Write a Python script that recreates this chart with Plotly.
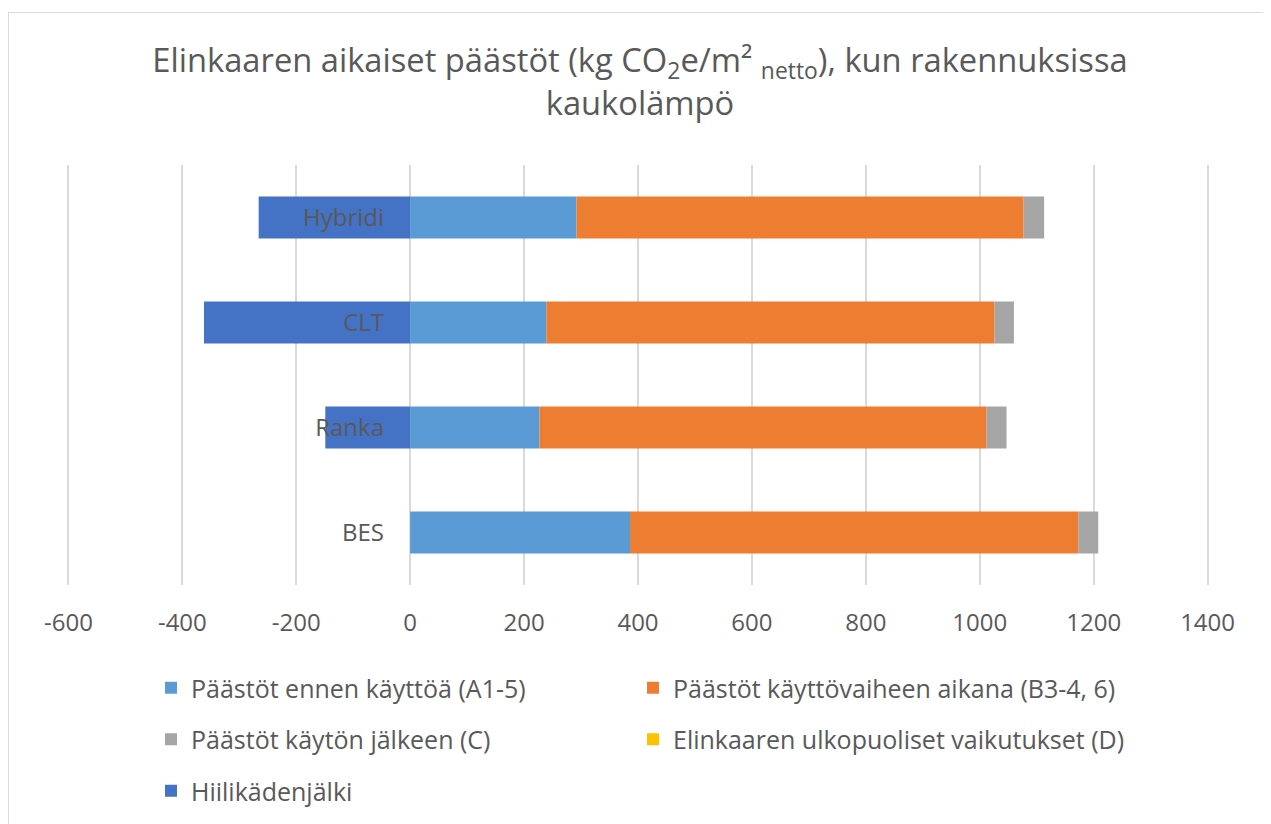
import plotly.graph_objects as go

# ---- data ----
categories = ["BES", "Ranka", "CLT", "Hybridi"]
series_names = [
    "Päästöt ennen käyttöä (A1-5)",
    "Päästöt käyttövaiheen aikana (B3-4, 6)",
    "Päästöt käytön jälkeen (C)",
    "Elinkaaren ulkopuoliset vaikutukset (D)",
    "Hiilikädenjälki",
]
a1_5 = [386, 227, 239, 292]
b3_6 = [787, 785, 787, 785]
c_after = [35, 35, 34, 36]
d_outside = [0, 0, 0, 0]
hiili = [0, -149, -362, -266]
x_ticks = [-600, -400, -200, 0, 200, 400, 600, 800, 1000, 1200, 1400]
x_ticktext = [str(v) for v in x_ticks]
title_text = ("Elinkaaren aikaiset päästöt (kg CO<sub>2</sub>e/m² <sub>netto</sub>), kun rakennuksissa"
              "<br>kaukolämpö")

colors = ["#5B9BD5", "#ED7D31", "#A5A5A5", "#FFC000", "#4472C4"]
legend_ids = ["legend", "legend2", "legend", "legend2", "legend"]
values = [a1_5, b3_6, c_after, d_outside, hiili]

FONT = "Open Sans"
TXT = "#595959"

OFF = 8  # page body margin
W, H = 1271 - OFF, 824 - OFF
ML, MT = 67 - OFF, 165 - OFF
MR, MB = 62, 239
PW = W - ML - MR
PH = H - MT - MB

fig = go.Figure()
for name, vals, col, lg in zip(series_names, values, colors, legend_ids):
    fig.add_trace(go.Bar(
        y=categories, x=vals, name=name, orientation="h",
        marker=dict(color=col, line=dict(width=0)),
        legend=lg, legendgroup=name,
    ))

def px_x(p):  # screen px -> paper x
    return (p - OFF - ML) / PW

def px_y(p):  # screen px -> paper y
    return (H - MB - (p - OFF)) / PH

fig.update_layout(
    width=W, height=H,
    margin=dict(l=ML, r=MR, t=MT, b=MB, autoexpand=False),
    paper_bgcolor="white", plot_bgcolor="white",
    barmode="relative", bargap=0.6,
    font=dict(family=FONT, color=TXT, size=24),
    title=dict(text=title_text, x=(640 - OFF) / W, xref="container", xanchor="center",
               y=1 - 64 / H, yref="container", yanchor="top",
               font=dict(family=FONT, size=32.7, color=TXT)),
    xaxis=dict(range=[-602.5, 1402.5], tickvals=x_ticks, ticktext=x_ticktext,
               showgrid=True, gridcolor="#D9D9D9", gridwidth=1.5, zeroline=False,
               showline=False, ticks="", ticklabelstandoff=21,
               tickfont=dict(size=24, color=TXT, family=FONT)),
    yaxis=dict(categoryorder="array", categoryarray=categories,
               anchor="free", position=px_x(409), side="left",
               showgrid=False, zeroline=False, showline=False, ticks="",
               ticklabelstandoff=25,
               tickfont=dict(size=24, color=TXT, family=FONT)),
    legend=dict(orientation="v", x=px_x(151), xanchor="left",
                y=px_y(665), yanchor="top", tracegroupgap=16,
                font=dict(size=25, color=TXT, family=FONT),
                bgcolor="rgba(0,0,0,0)", traceorder="grouped"),
    legend2=dict(orientation="v", x=px_x(633), xanchor="left",
                 y=px_y(665), yanchor="top", tracegroupgap=16,
                 font=dict(size=25, color=TXT, family=FONT),
                 bgcolor="rgba(0,0,0,0)", traceorder="grouped"),
    showlegend=True,
)

# chart-area border
fig.add_shape(type="rect", xref="paper", yref="paper",
              x0=px_x(8.5), x1=px_x(1269.5), y0=px_y(1000), y1=px_y(12.5),
              line=dict(color="#D9D9D9", width=1), fillcolor="rgba(0,0,0,0)",
              layer="above")

fig.write_html("out.html")
